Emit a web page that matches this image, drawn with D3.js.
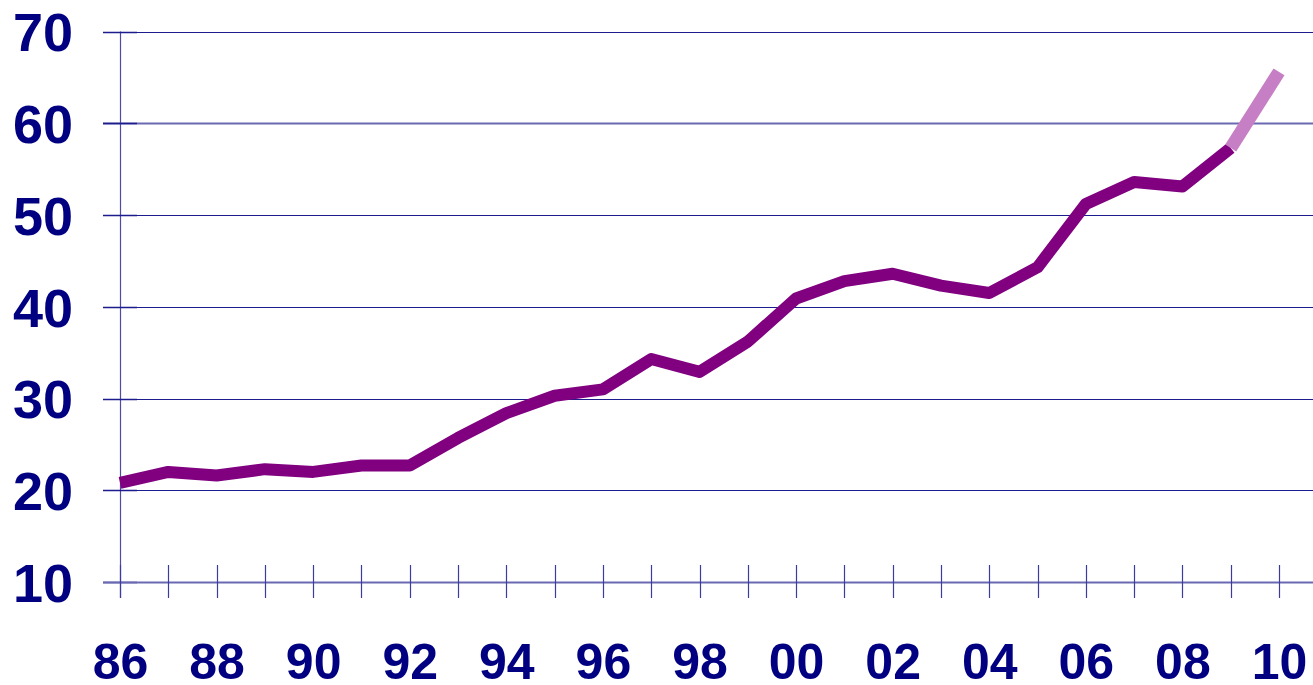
<!DOCTYPE html>
<html>
<head>
<meta charset="utf-8">
<script src="https://cdn.jsdelivr.net/npm/d3@7"></script>
<style>
  html, body { margin: 0; padding: 0; background: #fff; }
  svg { display: block; }
  text { font-family: "Liberation Sans", Arial, sans-serif; font-weight: bold; fill: #000080; }
</style>
</head>
<body>
<svg id="chart" width="1313" height="685"></svg>
<script>
const years = [1986, 1987, 1988, 1989, 1990, 1991, 1992, 1993, 1994, 1995, 1996, 1997,
  1998, 1999, 2000, 2001, 2002, 2003, 2004, 2005, 2006, 2007, 2008, 2009, 2010];
const values = [20.8, 22.0, 21.6, 22.3, 22.0, 22.7, 22.7, 25.7, 28.4, 30.3, 31.0, 34.3,
  32.9, 36.2, 40.9, 42.8, 43.6, 42.3, 41.5, 44.3, 51.2, 53.6, 53.1, 57.3, 65.6];
const firstForecastYear = 2009; // segment 2009-2010 drawn lighter
const yTicks = [10, 20, 30, 40, 50, 60, 70];

const svg = d3.select('#chart');
const width = 1313;

const x = d3.scaleLinear().domain([1986, 2010]).range([120, 1279]);
const y = d3.scaleLinear().domain([10, 70]).range([582, 31.5]);

const data = years.map((yr, i) => ({ year: yr, value: values[i] }));

// horizontal gridlines
svg.append('g')
  .selectAll('line')
  .data(yTicks.filter((t) => t > 10))
  .join('line')
  .attr('x1', 103)
  .attr('x2', width)
  .attr('y1', (d) => Math.round(y(d)) + 0.5)
  .attr('y2', (d) => Math.round(y(d)) + 0.5)
  .attr('stroke', (d) => (d === 60 ? '#6a6ab4' : '#1c1c8e'))
  .attr('stroke-width', (d) => (d === 60 ? 2 : 1.2));

// y axis line
svg.append('line')
  .attr('x1', x(1986) + 0.5)
  .attr('x2', x(1986) + 0.5)
  .attr('y1', y(70))
  .attr('y2', 598)
  .attr('stroke', '#4c4ca6')
  .attr('stroke-width', 1.2);

// y axis labels + tick stubs
const yAxis = d3.axisLeft(y).tickValues(yTicks).tickSize(0).tickPadding(0);
const gy = svg.append('g').attr('transform', 'translate(73,0)').call(yAxis);
gy.select('.domain').remove();
gy.selectAll('text')
  .attr('font-size', 54)
  .attr('dy', '0.36em')
  .attr('fill', '#000080');

svg.append('g')
  .selectAll('line')
  .data(yTicks)
  .join('line')
  .attr('x1', 103)
  .attr('x2', 137)
  .attr('y1', (d) => Math.round(y(d)) + 0.5)
  .attr('y2', (d) => Math.round(y(d)) + 0.5)
  .attr('stroke', '#1c1c8e')
  .attr('stroke-width', 1.5);

// x axis (at value 10)
svg.append('line')
  .attr('x1', 103)
  .attr('x2', width)
  .attr('y1', Math.round(y(10)) + 0.5)
  .attr('y2', Math.round(y(10)) + 0.5)
  .attr('stroke', '#6a6ab4')
  .attr('stroke-width', 2);

svg.append('g')
  .selectAll('line')
  .data(years)
  .join('line')
  .attr('x1', (d) => Math.round(x(d)) + 0.5)
  .attr('x2', (d) => Math.round(x(d)) + 0.5)
  .attr('y1', 565)
  .attr('y2', 598)
  .attr('stroke', '#3c3ca0')
  .attr('stroke-width', 1.2);

const xAxis = d3.axisBottom(x)
  .tickValues(years.filter((yr) => yr % 2 === 0))
  .tickSize(0)
  .tickPadding(0)
  .tickFormat((d) => String(d % 100).padStart(2, '0'));
const gx = svg.append('g').attr('transform', 'translate(0,679)').call(xAxis);
gx.select('.domain').remove();
gx.selectAll('text')
  .attr('font-size', 50)
  .attr('dy', 0)
  .attr('y', 0)
  .attr('fill', '#000080');

// series line
const line = d3.line().x((d) => x(d.year)).y((d) => y(d.value));

svg.append('path')
  .datum(data.filter((d) => d.year <= firstForecastYear))
  .attr('d', line)
  .attr('fill', 'none')
  .attr('stroke', '#800080')
  .attr('stroke-width', 12)
  .attr('stroke-linejoin', 'round');

svg.append('path')
  .datum(data.filter((d) => d.year >= firstForecastYear))
  .attr('d', line)
  .attr('fill', 'none')
  .attr('stroke', '#c67fc4')
  .attr('stroke-width', 13)
  .attr('stroke-linecap', 'butt');
</script>
</body>
</html>
